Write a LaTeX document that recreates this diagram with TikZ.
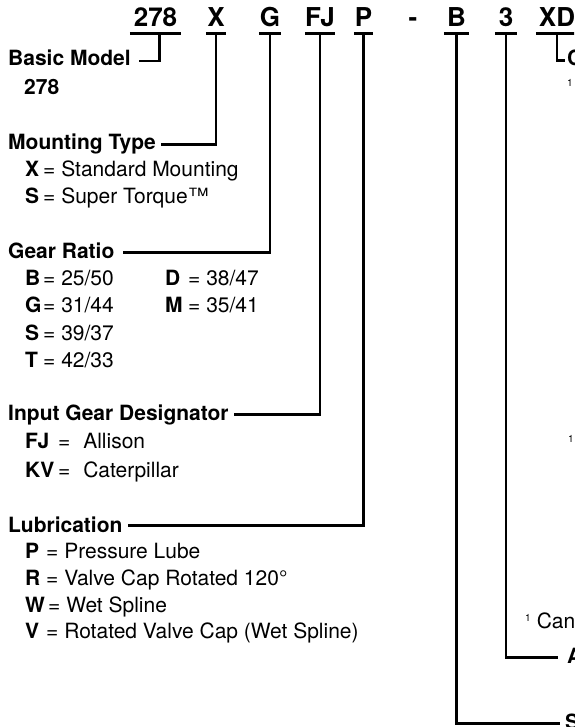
\documentclass[tikz,border=0pt]{standalone}
\usepackage{fontspec}
\setmainfont{TeX Gyre Heros}
\usepackage{tikz}
\usetikzlibrary{calc}

\tikzset{
  codetext/.style={font=\fontsize{26}{30}\selectfont\bfseries, anchor=base,
    inner xsep=0pt, inner ysep=6.5pt, text depth=0pt},
  headtext/.style={font=\fontsize{21}{25}\selectfont\bfseries, anchor=base west, inner sep=0pt},
  keytext/.style={font=\fontsize{21}{25}\selectfont\bfseries, anchor=base west, inner sep=0pt},
  valtext/.style={font=\fontsize{21}{25}\selectfont, anchor=base west, inner sep=0pt},
  notetext/.style={font=\fontsize{10}{10}\selectfont, anchor=base west, inner sep=0pt},
  leader/.style={line width=2.5pt},
  underbar/.style={line width=3pt}
}

% one line of a list: name, key x, baseline, key, x of "=", rest
\newcommand{\coderow}[6]{%
  \node[keytext] (#1k) at (#2,#3) {#4};
  \node[valtext] (#1v) at (#5,#3) {= #6};}

\begin{document}
\begin{tikzpicture}[x=1pt,y=-1pt]
\useasboundingbox (0,0) rectangle (574,727);
\clip (0,0) rectangle (574,727);

% model code along the top
\node[codetext, minimum width=51pt] (cModel) at (155.5,27) {278};
\node[codetext, minimum width=20pt] (cMount) at (216,27) {X};
\node[codetext, minimum width=22pt] (cGear) at (270,27) {G};
\node[codetext, minimum width=28pt] (cInput) at (320,27) {FJ};
\node[codetext, minimum width=19pt] (cLube) at (363.5,27) {P};
\node[codetext] (cDash) at (413,27) {-};
\node[codetext, minimum width=25pt] (cShaft) at (456.5,27) {B};
\node[codetext, minimum width=22pt] (cAssy) at (506,27) {3};
\node[codetext, minimum width=42pt] (cOpt) at (557,27) {XD};
\foreach \n in {cModel,cMount,cGear,cInput,cLube,cShaft,cAssy,cOpt}
  \draw[underbar] (\n.south west) -- (\n.south east);

% left column
\node[headtext] (basic) at (8,66) {Basic Model};
\node[headtext] (basicv) at (24,95) {278};

\node[headtext] (mount) at (8,150) {Mounting Type};
\coderow{mx}{25}{177}{X}{43}{Standard Mounting}
\coderow{ms}{25}{204}{S}{43}{Super Torque™}

\node[headtext] (gear) at (8,258) {Gear Ratio};
\coderow{gb}{25}{285}{B}{43}{25/50}
\coderow{gg}{25}{312}{G}{43}{31/44}
\coderow{gs}{25}{340}{S}{43}{39/37}
\coderow{gt}{25}{367}{T}{43}{42/33}
\coderow{gd}{165}{285}{D}{188}{38/47}
\coderow{gm}{165}{312}{M}{188}{35/41}

\node[headtext] (input) at (8,420) {Input Gear Designator};
\coderow{ifj}{25}{448}{FJ}{58}{\hspace{7pt}Allison}
\coderow{ikv}{25}{477}{KV}{58}{\hspace{7pt}Caterpillar}

\node[headtext] (lube) at (8,532) {Lubrication};
\coderow{lp}{25}{558}{P}{46}{Pressure Lube}
\coderow{lr}{25}{585}{R}{46}{Valve Cap Rotated 120°}
\coderow{lw}{25}{612}{W}{48}{Wet Spline}
\coderow{lv}{25}{638}{V}{46}{Rotated Valve Cap (Wet Spline)}

% right column, cut by the page edge
\node[headtext] (opt) at (567,66) {C};
\node[notetext] (optn1) at (567,87) {1};
\node[notetext] (optn2) at (568,442) {1};
\node[valtext] (optfoot) at (525,628) {\raisebox{7pt}{\fontsize{10}{10}\selectfont 1}\hspace{6pt}Can};
\node[headtext] (assy) at (567,663) {A};
\node[headtext] (shaft) at (565,729) {S};

% leaders
\draw[leader] ([xshift=4pt]cModel.south) |- ([xshift=8pt,yshift=5pt]basic.base east);
\draw[leader] (cMount.south) |- ([xshift=5pt,yshift=5.5pt]mount.base east);
\draw[leader] (cGear.south) |- ([xshift=8pt,yshift=5.5pt]gear.base east);
\draw[leader] (cInput.south) |- ([xshift=5pt,yshift=5.5pt]input.base east);
\draw[leader] (cLube.south) |- ([xshift=5pt,yshift=6.5pt]lube.base east);
\draw[leader] (cOpt.south) |- ([xshift=-2pt,yshift=5.5pt]opt.base west);
\draw[leader] (cAssy.south) |- ([xshift=-9pt,yshift=5.5pt]assy.base west);
\draw[leader] (cShaft.south) |- ([xshift=-5pt,yshift=5.5pt]shaft.base west);
\end{tikzpicture}
\end{document}
